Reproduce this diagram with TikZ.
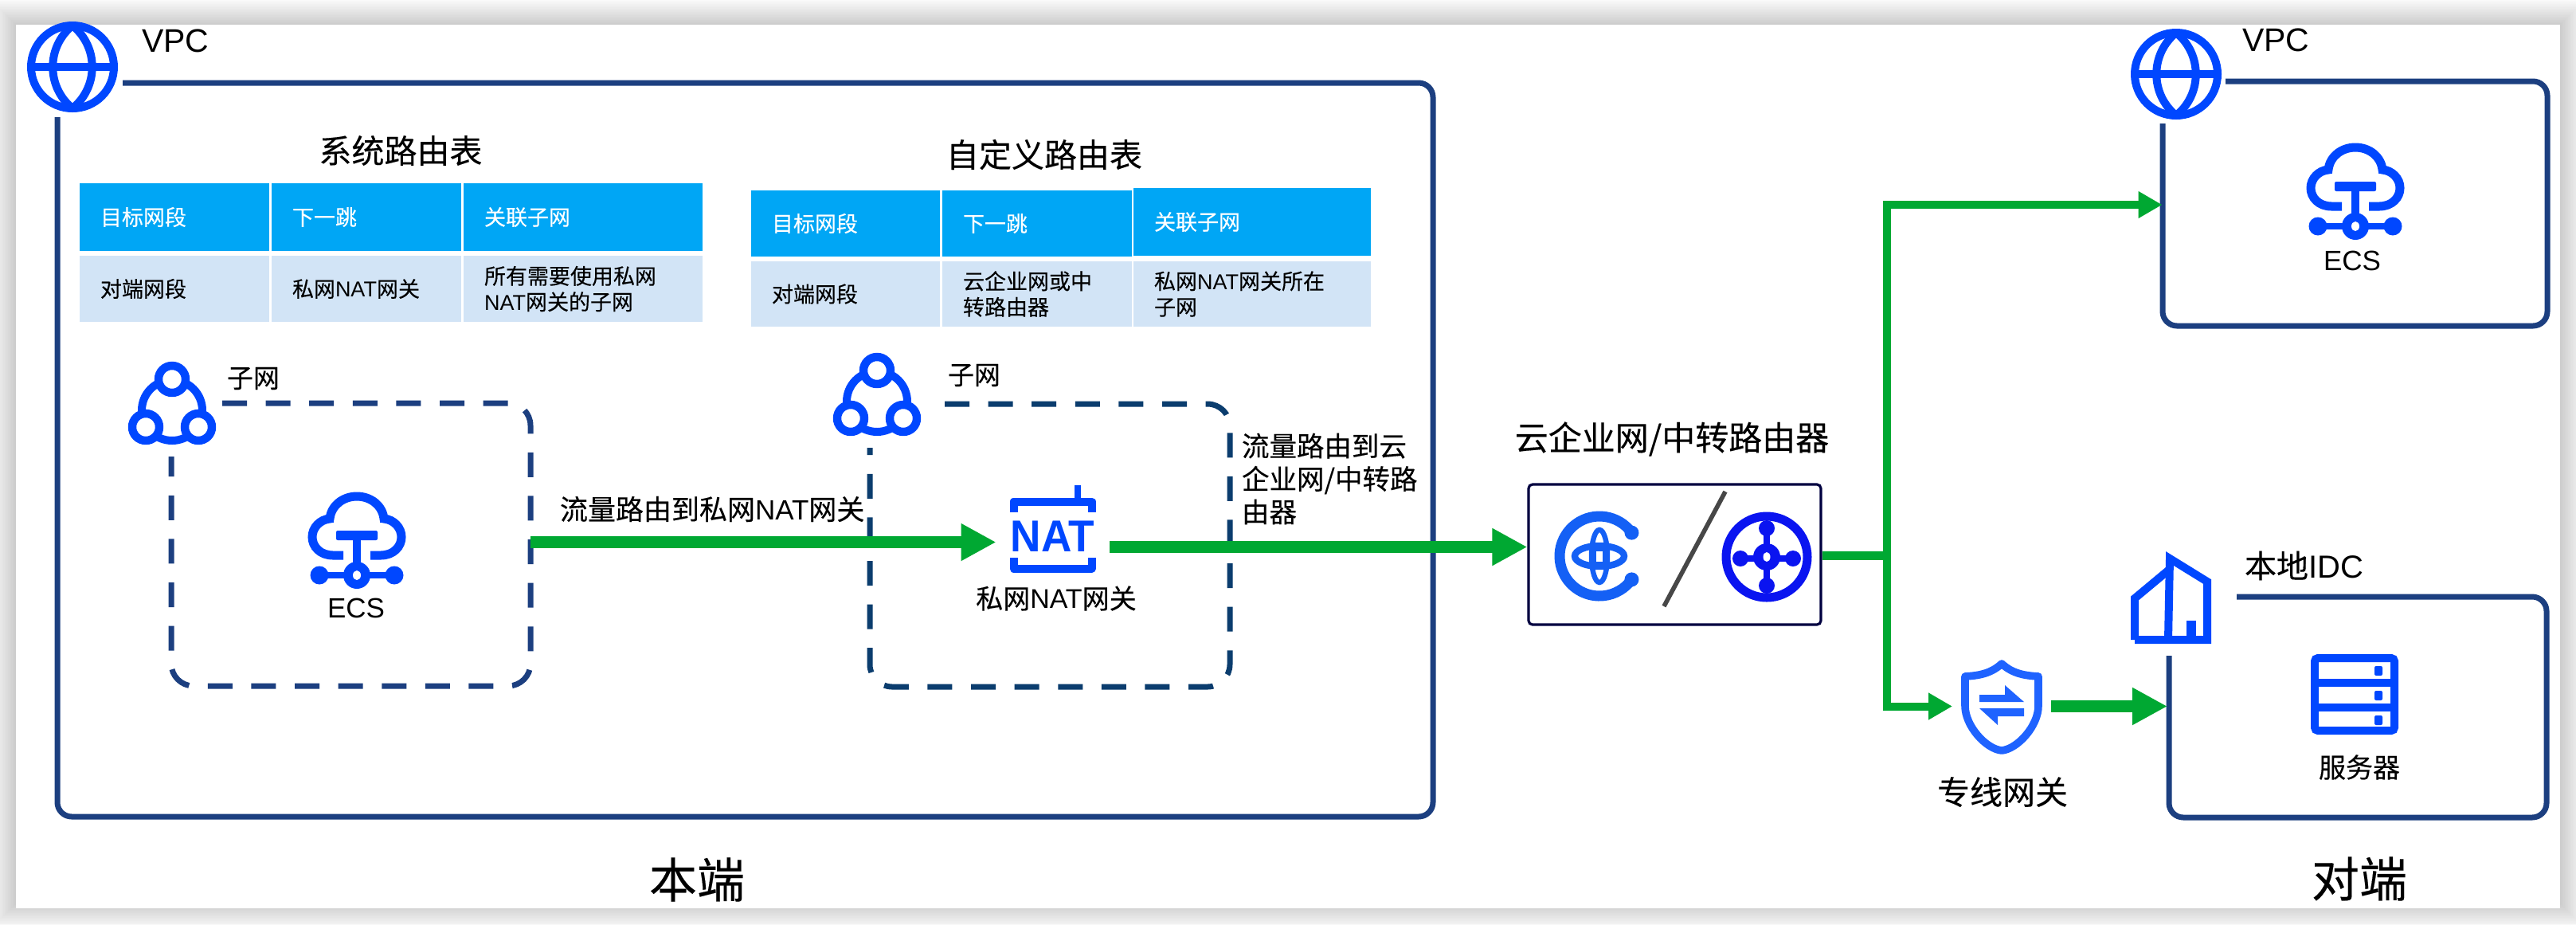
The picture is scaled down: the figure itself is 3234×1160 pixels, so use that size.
\documentclass[tikz,border=0pt]{standalone}
\usepackage{fontspec}
\usepackage{graphicx}
\usetikzlibrary{arrows.meta,calc}
\setmainfont{Liberation Sans}
\newfontfamily\cjkf[RawFeature={embolden=0.25}]{Noto Sans CJK SC}
\newcommand\latn[1]{{\rmfamily #1}}
\newcommand\pxfont[1]{\cjkf\pgfmathsetmacro\fszA{#1*0.25}\pgfmathsetmacro\fszB{#1*0.25*1.2}\fontsize{\fszA pt}{\fszB pt}\selectfont}
\definecolor{iconblue}{HTML}{0047FF}
\definecolor{shieldblue}{HTML}{1F63FF}
\definecolor{cenblue}{HTML}{1460F5}
\definecolor{trblue}{HTML}{0A14F0}
\definecolor{boxblue}{HTML}{1C3F80}
\definecolor{dashdark}{HTML}{0B3D6E}
\definecolor{flowgreen}{HTML}{00A832}
\definecolor{headfill}{HTML}{00A6F5}
\definecolor{rowfill}{HTML}{D2E4F6}
\tikzset{
  x=0.25pt,y=-0.25pt,
  boxline/.style={draw=boxblue,line width=1.75pt,rounded corners=4.5pt},
  dashbox/.style={line width=1.75pt,dash pattern=on 7.75pt off 5.9pt,rounded corners=7pt},
  region/.style={inner sep=0pt,outer sep=0pt,draw=none},
  flowbig/.style={draw=flowgreen,line width=3.75pt,-{Triangle[length=11pt,width=11pt]}},
  flowthin/.style={draw=flowgreen,line width=2.5pt,-{Triangle[length=7.5pt,width=8pt]}},
  flowstub/.style={draw=flowgreen,line width=2.75pt},
  headcell/.style={fill=headfill,text=white},
  rowcell/.style={fill=rowfill,text=black},
  lbl/.style={inner sep=0pt,outer sep=0pt,align=left,text=black},
  pics/globe/.style={code={
    \draw[iconblue,line width=2.5pt] (0,0) circle[radius=52];
    \draw[iconblue,line width=2.5pt] (-52,0) -- (52,0);
    \draw[iconblue,line width=2.5pt] (0,-52) .. controls (-33,-25) and (-33,25) .. (0,52);
    \draw[iconblue,line width=2.5pt] (0,-52) .. controls (33,-25) and (33,25) .. (0,52);
  }},
  pics/subnet/.style={code={
    \draw[iconblue,line width=2.5pt] (0,8) circle[radius=38];
    \draw[iconblue,line width=2.6pt,fill=white] (0,-31) circle[radius=17];
    \draw[iconblue,line width=2.6pt,fill=white] (-33,29) circle[radius=17];
    \draw[iconblue,line width=2.6pt,fill=white] (33,29) circle[radius=17];
  }},
  pics/ecsicon/.style={code={
    \draw[iconblue,line width=2.75pt] (-17,19) -- (-30,19) .. controls (-46,19) and (-56,8) .. (-56,-4)
      .. controls (-56,-16) and (-46,-26) .. (-34,-27) .. controls (-32,-44) and (-17,-55) .. (0,-55)
      .. controls (17,-55) and (32,-44) .. (34,-27) .. controls (46,-26) and (56,-16) .. (56,-4)
      .. controls (56,8) and (46,19) .. (30,19) -- (17,19);
    \fill[iconblue,rounded corners=0.5pt] (-26,-12) rectangle (26,0);
    \fill[iconblue] (-5,0) rectangle (5,32);
    \fill[iconblue] (-48,40) rectangle (48,48);
    \fill[iconblue] (-47,44) circle[radius=11.5];
    \fill[iconblue] (47,44) circle[radius=11.5];
    \fill[iconblue] (0,44) circle[radius=17];
    \fill[white] (0,44) ellipse[x radius=5,y radius=6];
  }},
  pics/naticon/.style={code={
    \draw[iconblue,line width=2.5pt,line join=round] (-49,-20) -- (-49,-33.5) -- (49,-33.5) -- (49,-20);
    \draw[iconblue,line width=2.5pt,line join=round] (-49,37) -- (-49,50.5) -- (49,50.5) -- (49,37);
    \draw[iconblue,line width=2pt] (31.5,-54) -- (31.5,-36);
  }},
  pics/cenicon/.style={code={
    \draw[cenblue,line width=3.25pt] (-36:50) arc[start angle=-36,end angle=-324,radius=50];
    \fill[cenblue] (-36:50) circle[radius=9];
    \fill[cenblue] (36:50) circle[radius=9];
    \draw[cenblue,line width=2.1pt] (0,0) ellipse[x radius=31,y radius=13];
    \draw[cenblue,line width=1.6pt] (0,0) ellipse[x radius=10,y radius=33];
    \fill[cenblue] (-12,-12) rectangle (12,12);
    \fill[white] (-4,-6.5) rectangle (4,6.5);
  }},
  pics/tricon/.style={code={
    \draw[trblue,line width=2.75pt] (0,0) circle[radius=51];
    \draw[trblue,line width=2pt] (0,-36) -- (0,36) (-33,2) -- (33,2);
    \fill[trblue] (0,-36) circle[radius=10];
    \fill[trblue] (0,36) circle[radius=10];
    \fill[trblue] (-33,2) circle[radius=10];
    \fill[trblue] (33,2) circle[radius=10];
    \fill[trblue] (0,0) circle[radius=17];
    \fill[white] (0,0) ellipse[x radius=4.5,y radius=6];
  }},
  pics/shieldicon/.style={code={
    \draw[shieldblue,line width=2.4pt,line join=round] (0,-53) .. controls (-14,-40) and (-30,-38) .. (-46,-37)
      -- (-46,0) .. controls (-46,25) and (-20,54) .. (0,56) .. controls (20,54) and (46,25) .. (46,0)
      -- (46,-37) .. controls (30,-38) and (14,-40) .. (0,-53) -- cycle;
    \fill[shieldblue] (-28,-14) -- (4,-14) -- (4,-26) -- (28,-5) -- (-28,-5) -- cycle;
    \fill[shieldblue] (28,13) -- (-5,13) -- (-5,24) -- (-28,3) -- (28,3) -- cycle;
  }},
  pics/buildingicon/.style={code={
    \draw[iconblue,line width=2.5pt,line join=miter] (2680,803) -- (2680,751) -- (2722,716);
    \draw[iconblue,line width=2.5pt,line join=miter] (2680,803) -- (2771,803) -- (2771,730) -- (2724,701) -- (2722,803);
    \fill[iconblue] (2745,779) rectangle (2757,800);
  }},
  pics/servericon/.style={code={
    \draw[iconblue,line width=2.5pt,rounded corners=1pt] (2906,826) rectangle (3006,917);
    \draw[iconblue,line width=2.5pt] (2906,857) -- (3006,857) (2906,888) -- (3006,888);
    \fill[iconblue,rounded corners=0.5pt] (2981,836) rectangle (2991,848);
    \fill[iconblue,rounded corners=0.5pt] (2981,867) rectangle (2991,879);
    \fill[iconblue,rounded corners=0.5pt] (2981,898) rectangle (2991,910);
  }},
}
% table cell: name, x, y, w, h, style, text
\newcommand\tcell[7]{%
  \pgfmathsetlengthmacro\cellw{(#4-52)*0.25pt}%
  \pgfmathsetlengthmacro\cellh{#5*0.25pt}%
  \node[#6,anchor=north west,inner xsep=6.5pt,inner ysep=0pt,outer sep=0pt,text width=\cellw,minimum height=\cellh,align=left,font=\pxfont{27}] (#1) at (#2,#3) {#7};}
\begin{document}
\begin{tikzpicture}
\useasboundingbox (0,0) rectangle (3234,1160);
% page and its shadow
\fill[white!98!black] (0,0) rectangle (3234,1160);
\foreach \m in {2,4,...,30}{
  \fill[black,opacity=0.01] ({20-\m},{31-\m}) rectangle ({3214+\m},{1134+\m});
}
\fill[white] (20,31) rectangle (3214,1140);

% regions
\node[region,minimum width=431.75pt,minimum height=230.5pt] (vpcA) at (935.5,564.5) {};
\node[region,minimum width=112.75pt,minimum height=88.75pt] (subnetA) at (440.5,683.5) {};
\node[region,minimum width=113pt,minimum height=88.75pt] (subnetB) at (1318,684.5) {};
\node[region,minimum width=120.75pt,minimum height=76.75pt] (vpcB) at (2956.5,255.5) {};
\node[region,minimum width=118.5pt,minimum height=69.25pt] (idc) at (2960,887.5) {};
\node[region,minimum width=31pt,minimum height=30pt] (dxgw) at (2513,886.5) {};
\node[draw=black!75!blue,line width=0.8pt,rounded corners=1.25pt,fill=white,minimum width=91.75pt,minimum height=44pt,inner sep=0pt] (cen) at (2102.5,696) {};

% VPC local
\draw[boxline] (154,104) -- (1799,104) -- (1799,1025) -- (72,1025) -- (72,147);
\pic at (91,84) {globe};
\node[lbl,anchor=west,font=\rmfamily\fontsize{10.25}{12}\selectfont] (vpcAlabel) at (178,51.5) {VPC};

% route tables
\node[lbl,font=\pxfont{41}] (titleSys) at (503,189) {系统路由表};
\tcell{sA}{100}{230}{238}{85}{headcell}{目标网段}
\tcell{sB}{341}{230}{238}{85}{headcell}{下一跳}
\tcell{sC}{582}{230}{300}{85}{headcell}{关联子网}
\tcell{sD}{100}{321}{238}{83}{rowcell}{对端网段}
\tcell{sE}{341}{321}{238}{83}{rowcell}{私网\latn{NAT}网关}
\tcell{sF}{582}{321}{300}{83}{rowcell}{所有需要使用私网\\\latn{NAT}网关的子网}

\node[lbl,font=\pxfont{41}] (titleCus) at (1311,194) {自定义路由表};
\tcell{cA}{943}{239}{237}{83}{headcell}{目标网段}
\tcell{cB}{1183}{239}{238}{83}{headcell}{下一跳}
\tcell{cC}{1423}{236}{298}{85}{headcell}{关联子网}
\tcell{cD}{943}{328}{237}{82}{rowcell}{对端网段}
\tcell{cE}{1183}{328}{238}{82}{rowcell}{云企业网或中\\转路由器}
\tcell{cF}{1423}{328}{298}{82}{rowcell}{私网\latn{NAT}网关所在\\子网}

% subnet A
\draw[dashbox,draw=boxblue] (279,506) -- (666,506) -- (666,861) -- (215,861) -- (215,573);
\pic at (216,507) {subnet};
\node[lbl,font=\pxfont{33}] (subA) at (318,475) {子网};
\pic at (448,678) {ecsicon};
\node[lbl,font=\rmfamily\fontsize{8.75}{10}\selectfont] (ecsA) at (447,763) {ECS};

% subnet B
\draw[dashbox,draw=dashdark] (1186,507) -- (1544,507) -- (1544,862) -- (1092,862) -- (1092,562);
\pic at (1101,496) {subnet};
\node[lbl,font=\pxfont{33}] (subB) at (1223,471) {子网};
\pic at (1321.5,663) {naticon};
\node[inner sep=0pt,font=\rmfamily\bfseries\fontsize{14}{16}\selectfont,text=iconblue] (natText) at (1321.5,673) {\scalebox{0.95}[1]{NAT}};
\node[lbl,font=\pxfont{34}] (natLabel) at (1326,751) {私网\latn{NAT}网关};
\coordinate (natIn) at (1250.5,680.5);
\coordinate (natOut) at (1393,686.5);

% labels
\node[lbl,anchor=west,font=\pxfont{35}] (flowA) at (703,639) {流量路由到私网\latn{NAT}网关};
\node[lbl,anchor=west,font=\pxfont{34.5}] (flowB) at (1559,601) {流量路由到云\\企业网/中转路\\由器};
\node[lbl,font=\pxfont{42}] (cenLabel) at (2099,551) {云企业网/中转路由器};

% CEN / TR icons
\pic at (2008,698) {cenicon};
\pic at (2218,699) {tricon};
\draw[black!72,line width=1.4pt] (2166,617) -- (2089,761);

% remote VPC
\draw[boxline] (2794,102) -- (3198,102) -- (3198,409) -- (2715,409) -- (2715,155);
\pic at (2732,93) {globe};
\node[lbl,anchor=west,font=\rmfamily\fontsize{10.25}{12}\selectfont] (vpcBlabel) at (2815,50) {VPC};
\pic at (2957,240) {ecsicon};
\node[lbl,font=\rmfamily\fontsize{8.75}{10}\selectfont] (ecsB) at (2953,327) {ECS};
\coordinate (vpcBin) at (2714.5,257);

% IDC
\draw[boxline] (2808,749) -- (3197,749) -- (3197,1026) -- (2723,1026) -- (2723,823);
\pic at (0,0) {buildingicon};
\pic at (0,0) {servericon};
\node[lbl,anchor=west,font=\pxfont{40}] (idcLabel) at (2818,710) {本地\latn{IDC}};
\node[lbl,font=\pxfont{34}] (srvLabel) at (2962,963) {服务器};

% DX gateway
\pic at (2513,886) {shieldicon};
\node[lbl,font=\pxfont{41}] (dxLabel) at (2514,994) {专线网关};

% bottom captions
\node[lbl,font=\pxfont{60}] (localCap) at (875,1104) {本端};
\node[lbl,font=\pxfont{60}] (peerCap) at (2962,1103) {对端};

% connectors
\draw[flowbig] (subnetA.east |- natIn) -- (natIn);
\draw[flowbig] (natOut) -- (cen.west |- natOut);
\coordinate (junction) at (2369,697.5);
\draw[flowstub] (cen.east |- junction) -- (junction);
\draw[flowthin] (junction) |- (vpcBin);
\draw[flowthin] (junction) |- (dxgw.west);
\draw[flowbig,shorten >=0.5pt] (dxgw.east) -- (idc.west |- dxgw.east);
\end{tikzpicture}
\end{document}
